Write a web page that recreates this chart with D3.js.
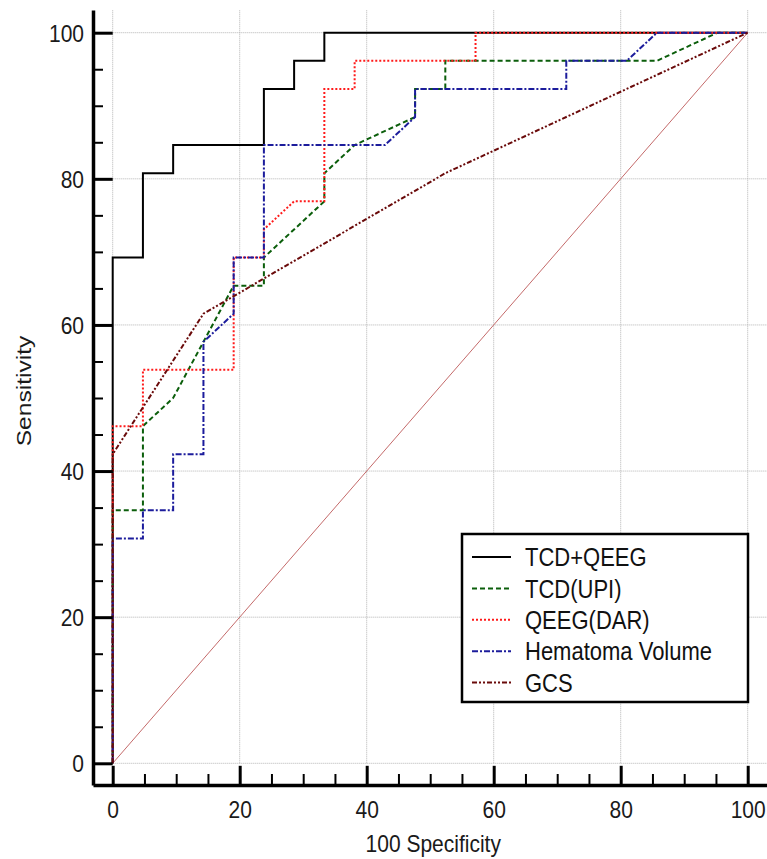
<!DOCTYPE html>
<html>
<head>
<meta charset="utf-8">
<script src="https://cdn.jsdelivr.net/npm/d3@7"></script>
<style>
  body { margin: 0; background: #fff; }
  #roc { width: 767px; height: 859px; }
</style>
</head>
<body>
<div id="roc"></div>
<script>
// ROC curves: x = 100 - Specificity, y = Sensitivity
var seriesNames = ["TCD+QEEG", "TCD(UPI)", "QEEG(DAR)", "Hematoma Volume", "GCS"];

var tcdQeegX = [0, 0, 4.76, 4.76, 9.52, 9.52, 23.81, 23.81, 28.57, 28.57, 33.33, 33.33, 100];
var tcdQeegY = [0, 69.23, 69.23, 80.77, 80.77, 84.62, 84.62, 92.31, 92.31, 96.15, 96.15, 100, 100];

var tcdUpiX = [0, 0, 4.76, 4.76, 9.52, 14.29, 19.05, 23.81, 23.81, 33.33, 33.33, 38.10, 47.62, 47.62, 52.38, 52.38, 85.71, 95.24, 100];
var tcdUpiY = [0, 34.62, 34.62, 46.15, 50.00, 57.69, 65.38, 65.38, 69.23, 76.92, 80.77, 84.62, 88.46, 92.31, 92.31, 96.15, 96.15, 100, 100];

var qeegDarX = [0, 0, 4.76, 4.76, 19.05, 19.05, 23.81, 23.81, 28.57, 33.33, 33.33, 38.10, 38.10, 57.14, 57.14, 100];
var qeegDarY = [0, 46.15, 46.15, 53.85, 53.85, 69.23, 69.23, 73.08, 76.92, 76.92, 92.31, 92.31, 96.15, 96.15, 100, 100];

var hematomaX = [0, 0, 4.76, 4.76, 9.52, 9.52, 14.29, 14.29, 19.05, 19.05, 23.81, 23.81, 42.86, 47.62, 47.62, 71.43, 71.43, 80.95, 85.71, 100];
var hematomaY = [0, 30.77, 30.77, 34.62, 34.62, 42.31, 42.31, 57.69, 61.54, 69.23, 69.23, 84.62, 84.62, 88.46, 92.31, 92.31, 96.15, 96.15, 100, 100];

var gcsX = [0, 0, 14.29, 52.38, 100];
var gcsY = [0, 42.31, 61.54, 80.77, 100];

var majorTicks = [0, 20, 40, 60, 80, 100];
var minorTicks = [5, 10, 15, 25, 30, 35, 45, 50, 55, 65, 70, 75, 85, 90, 95];

var seriesX = [tcdQeegX, tcdUpiX, qeegDarX, hematomaX, gcsX];
var seriesY = [tcdQeegY, tcdUpiY, qeegDarY, hematomaY, gcsY];

// styles
var colors = ["#000000", "#0b5e0b", "#ff1a1a", "#1c1c9c", "#6a0a0a"];
var dashes = [null, "5,3", "2,2", "6,2,2,2", "5,2,2,2,2,2"];

var svgWidth = 767;
var svgHeight = 859;
var fontFamily = "'Liberation Sans', Arial, sans-serif";
var stretch = 1.17; // text in the figure is a bit tall

var margin = { top: 32.7, right: 19.3, bottom: 95.7, left: 112.7 };
var yAxisX = 93;   // y axis line sits left of x = 0
var xAxisY = 785;  // x axis line sits below y = 0
var plotTop = 10;

var svg = d3.select("#roc")
  .append("svg")
  .attr("width", svgWidth)
  .attr("height", svgHeight);

var x = d3.scaleLinear()
  .domain([0, 100])
  .range([margin.left, svgWidth - margin.right]);

var y = d3.scaleLinear()
  .domain([0, 100])
  .range([svgHeight - margin.bottom, margin.top]);

// gridlines
var grid = svg.append("g")
  .attr("stroke", "#b4b4b4")
  .attr("stroke-width", 1)
  .attr("stroke-dasharray", "1,1");

grid.selectAll(".vg")
  .data(majorTicks)
  .enter()
  .append("line")
  .attr("x1", d => x(d)).attr("x2", d => x(d))
  .attr("y1", y(0)).attr("y2", plotTop);

grid.selectAll(".hg")
  .data(majorTicks)
  .enter()
  .append("line")
  .attr("x1", x(0)).attr("x2", svgWidth)
  .attr("y1", d => y(d)).attr("y2", d => y(d));

// reference diagonal
svg.append("path")
  .datum([0, 100])
  .attr("d", d3.line().x(d => x(d)).y(d => y(d)))
  .attr("fill", "none")
  .attr("stroke", "#c46a6a")
  .attr("stroke-width", 1);

// ROC curves
var line = d3.line()
  .x(d => x(d[0]))
  .y(d => y(d[1]));

seriesNames.forEach(function(name, i) {
  var pts = seriesX[i].map((v, j) => [v, seriesY[i][j]]);
  svg.append("path")
    .datum(pts)
    .attr("d", line)
    .attr("fill", "none")
    .attr("stroke", colors[i])
    .attr("stroke-width", 2)
    .attr("stroke-dasharray", dashes[i]);
});

// axes
var xAxisScale = x.copy().domain([x.invert(yAxisX), x.invert(svgWidth)]).range([yAxisX, svgWidth]);
var yAxisScale = y.copy().domain([y.invert(xAxisY), y.invert(plotTop)]).range([xAxisY, plotTop]);

var bottomAxis = d3.axisBottom(xAxisScale)
  .tickValues(majorTicks)
  .tickSize(-(xAxisY - y(0) - 2.5))
  .tickSizeOuter(0);

var leftAxis = d3.axisLeft(yAxisScale)
  .tickValues(majorTicks)
  .tickSize(-(x(0) - yAxisX))
  .tickSizeOuter(0);

var xAxisG = svg.append("g")
  .attr("transform", `translate(0, ${xAxisY})`)
  .call(bottomAxis);

var yAxisG = svg.append("g")
  .attr("transform", `translate(${yAxisX}, 0)`)
  .call(leftAxis);

// minor ticks
svg.append("g")
  .attr("class", "minor")
  .attr("transform", `translate(0, ${xAxisY})`)
  .call(d3.axisBottom(xAxisScale).tickValues(minorTicks).tickSize(-11).tickFormat(""));

svg.append("g")
  .attr("class", "minor")
  .attr("transform", `translate(${yAxisX}, 0)`)
  .call(d3.axisLeft(yAxisScale).tickValues(minorTicks).tickSize(-10).tickFormat(""));

svg.selectAll(".minor .domain").remove();
svg.selectAll(".minor line").attr("stroke-width", 2).attr("stroke", "#000");

[xAxisG, yAxisG].forEach(function(g) {
  g.attr("font-size", 21).attr("font-family", fontFamily);
  g.select(".domain").attr("stroke", "#000").attr("stroke-width", 3.5);
  g.selectAll(".tick line").attr("stroke", "#000").attr("stroke-width", 3);
  g.selectAll(".tick text").attr("fill", "#1a1a1a");
});

xAxisG.selectAll(".tick text")
  .attr("y", null)
  .attr("dy", null)
  .attr("transform", `translate(0, 33) scale(1, ${stretch})`);

yAxisG.selectAll(".tick text")
  .attr("x", null)
  .attr("dy", "0.35em")
  .attr("transform", `translate(-9, 0) scale(1, ${stretch})`);

// axis titles
svg.append("text")
  .attr("transform", `translate(${(x(0) + x(100)) / 2 + 3}, 852) scale(1, ${stretch})`)
  .attr("text-anchor", "middle")
  .attr("font-family", fontFamily)
  .attr("font-size", 21)
  .attr("fill", "#1a1a1a")
  .text("100 Specificity");

svg.append("text")
  .attr("transform", `translate(31, ${y(50) - 7}) rotate(-90) scale(${stretch}, 1)`)
  .attr("text-anchor", "middle")
  .attr("font-family", fontFamily)
  .attr("font-size", 21)
  .attr("fill", "#1a1a1a")
  .text("Sensitivity");

// legend
var legend = svg.append("g")
  .attr("transform", "translate(462, 534)");

legend.append("rect")
  .attr("width", 286)
  .attr("height", 168)
  .attr("fill", "#fff")
  .attr("stroke", "#000")
  .attr("stroke-width", 2.5);

var rows = legend.selectAll(".row")
  .data(seriesNames)
  .enter()
  .append("g")
  .attr("transform", (d, i) => `translate(0, ${23 + i * 31.4})`);

rows.append("line")
  .attr("x1", 10).attr("x2", 49)
  .attr("stroke", (d, i) => colors[i])
  .attr("stroke-width", 2)
  .attr("stroke-dasharray", (d, i) => dashes[i]);

rows.append("text")
  .attr("transform", `translate(63, 0) scale(1, ${stretch})`)
  .attr("dy", "0.36em")
  .attr("font-family", fontFamily)
  .attr("font-size", 22)
  .attr("fill", "#111")
  .text(d => d);
</script>
</body>
</html>
